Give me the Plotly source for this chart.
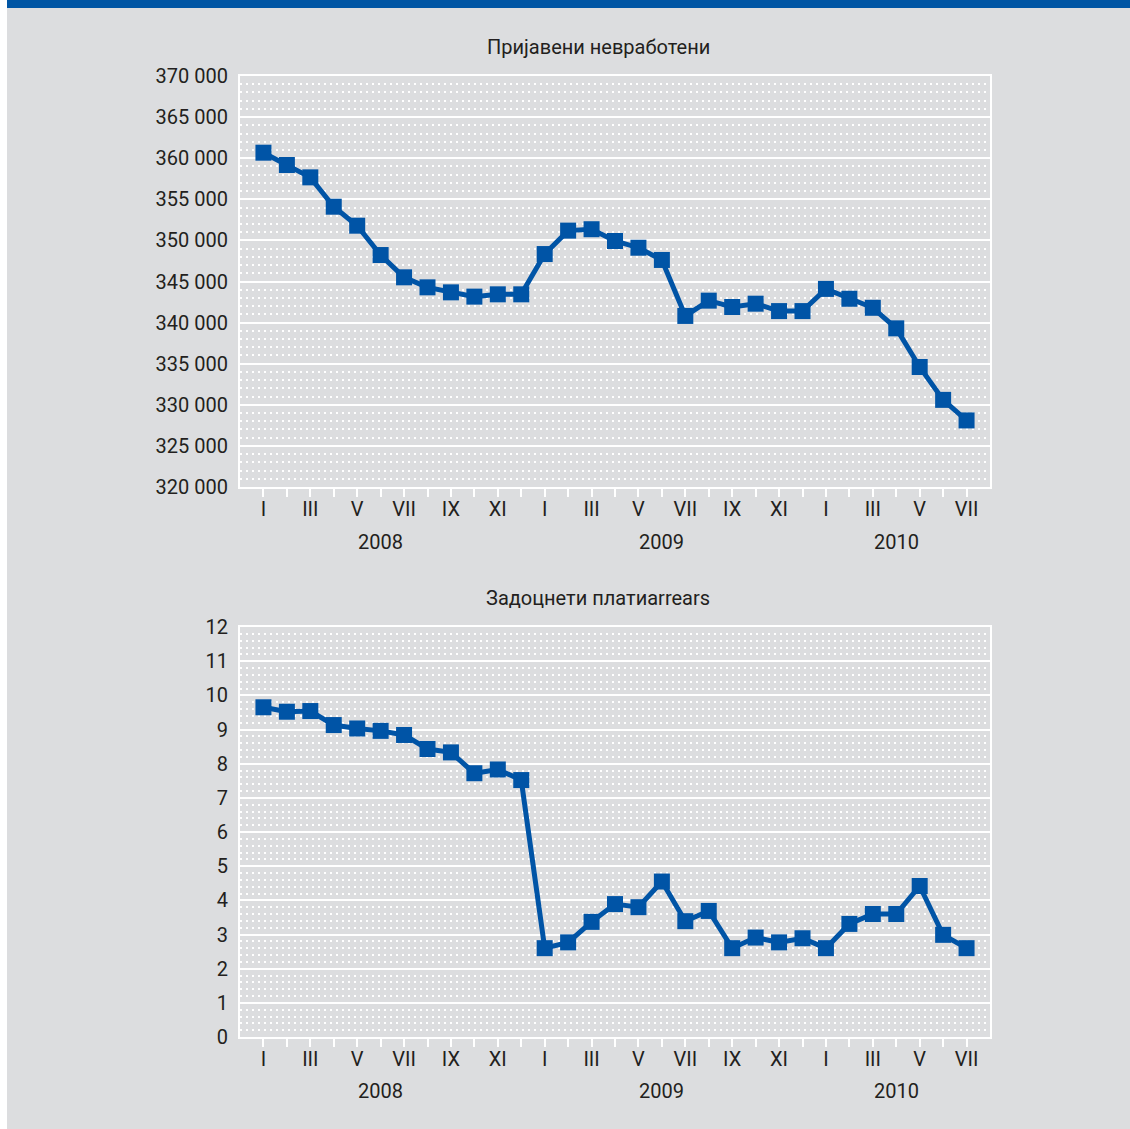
import plotly.graph_objects as go
from plotly.subplots import make_subplots

months_roman = ["I", "II", "III", "IV", "V", "VI", "VII", "VIII", "IX", "X", "XI", "XII"]
years = ["2008", "2009", "2010"]
n_months = 31  # Jan 2008 - Jul 2010

unemployed = [360670, 359170, 357670, 354100, 351790, 348220, 345510, 344290, 343680, 343160,
              343440, 343440, 348340, 351190, 351360, 349930, 349110, 347620, 340810, 342670,
              341900, 342300, 341400, 341400, 344100, 342900, 341800, 339300, 334600, 330600,
              328100]
arrears = [9.65, 9.52, 9.54, 9.13, 9.03, 8.96, 8.84, 8.43, 8.33, 7.72,
           7.83, 7.52, 2.60, 2.77, 3.37, 3.89, 3.80, 4.55, 3.39, 3.69,
           2.60, 2.91, 2.77, 2.89, 2.60, 3.31, 3.60, 3.60, 4.42, 2.99,
           2.60]

title_top = "Пријавени невработени"
title_bottom = "Задоцнети платиarrears"

x = list(range(n_months))
ticktext = [months_roman[i % 12] if i % 2 == 0 else "" for i in x]

BG = "#dcdddf"
BLUE = "#0054a6"
TXT = "#231f20"
FONT = "Roboto"
FS = 20

W, H = 1130, 1129
L, R, T, B = 240, 140, 76, 92
ph = H - T - B
top_dom = [(1037 - 487) / ph, 1.0]
bot_dom = [0.0, (1037 - 627) / ph]

fig = make_subplots(rows=2, cols=1)
for row, ys in ((1, unemployed), (2, arrears)):
    fig.add_trace(go.Scatter(x=x, y=ys, mode="lines+markers",
                             line=dict(color=BLUE, width=5),
                             marker=dict(symbol="square", size=16, color=BLUE),
                             showlegend=False, hoverinfo="skip"), row=row, col=1)

xcommon = dict(range=[-1, 31], tickmode="array", tickvals=x, ticktext=ticktext,
               ticks="outside", ticklen=8, tickwidth=2, tickcolor="white",
               showline=True, linecolor="white", linewidth=2, mirror=True,
               showgrid=False, zeroline=False, ticklabelstandoff=-5,
               tickfont=dict(family=FONT, size=FS, color=TXT))
fig.update_xaxes(**xcommon)
ycommon = dict(showline=True, linecolor="white", linewidth=2, mirror=True,
               showgrid=True, gridcolor="white", gridwidth=2, zeroline=False,
               ticks="outside", ticklen=6, tickcolor="rgba(0,0,0,0)",
               tickfont=dict(family=FONT, size=FS, color=TXT))
fig.update_yaxes(**ycommon)
fig.update_yaxes(range=[320000, 370000], dtick=5000, tickformat=",d",
                 minor=dict(dtick=1000, showgrid=True, gridcolor="white", gridwidth=2, griddash="2px,4px"),
                 domain=top_dom, row=1, col=1)
fig.update_yaxes(range=[0, 12], dtick=1,
                 minor=dict(dtick=0.2, showgrid=True, gridcolor="white", gridwidth=2, griddash="2px,4px"),
                 domain=bot_dom, row=2, col=1)
fig.update_xaxes(domain=[0, 1])

def py(pix):
    return (1037 - pix) / ph

def px(pix):
    return (pix - L) / (W - L - R)

ann = []
for txt, ypix in ((title_top, 47), (title_bottom, 598)):
    ann.append(dict(text=txt, x=px(598), y=py(ypix), xref="paper", yref="paper",
                    showarrow=False, xanchor="center", yanchor="middle",
                    font=dict(family=FONT, size=FS, color=TXT)))
year_pos = [5, 17, 27]
for xr, ypix in (("x", 542), ("x2", 1091)):
    for yr, xp in zip(years, year_pos):
        ann.append(dict(text=yr, x=xp, y=py(ypix), xref=xr, yref="paper",
                        showarrow=False, xanchor="center", yanchor="middle",
                        font=dict(family=FONT, size=FS, color=TXT)))

shapes = [
    dict(type="rect", xref="paper", yref="paper", x0=px(0), x1=px(7), y0=py(H + 5), y1=py(-5),
         fillcolor="white", line=dict(width=0), layer="below"),
    dict(type="rect", xref="paper", yref="paper", x0=px(7), x1=px(W + 5), y0=py(8), y1=py(-5),
         fillcolor="#0055a4", line=dict(width=0), layer="above"),
]

fig.update_layout(width=W, height=H, margin=dict(l=L, r=R, t=T, b=B),
                  paper_bgcolor=BG, plot_bgcolor=BG,
                  annotations=ann, shapes=shapes,
                  separators=". ")
fig.write_html("out.html")
